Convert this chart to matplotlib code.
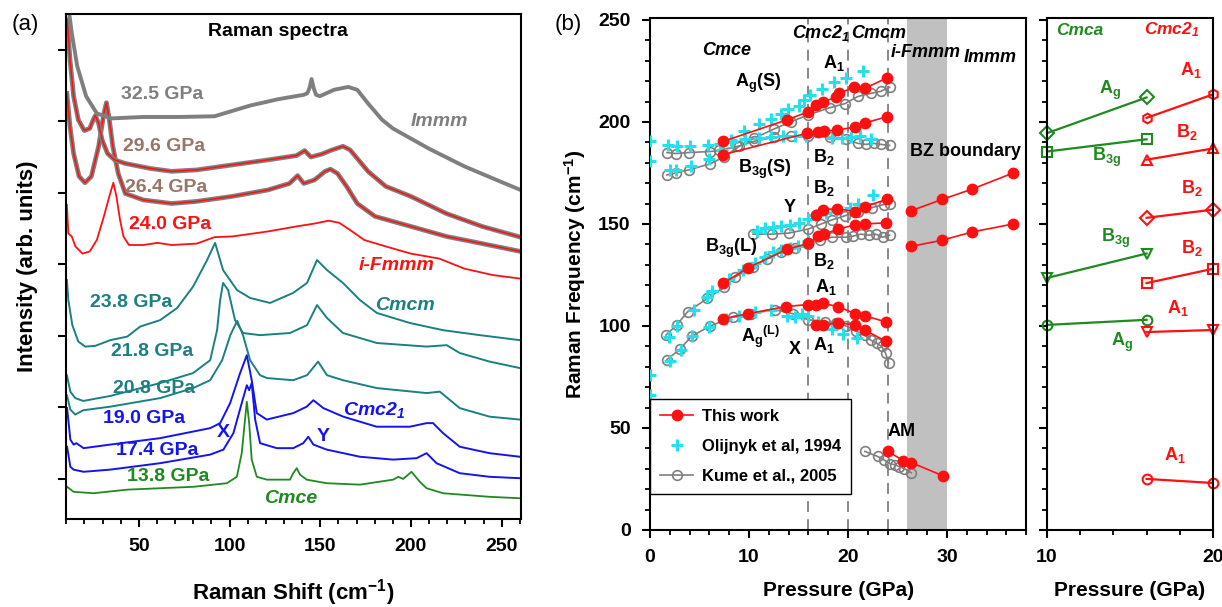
import matplotlib.pyplot as plt
from matplotlib.ticker import MultipleLocator

plt.rcParams['font.family'] = ['Liberation Sans', 'DejaVu Sans']
plt.rcParams['font.weight'] = 'bold'
plt.rcParams['axes.labelweight'] = 'bold'
plt.rcParams['mathtext.default'] = 'regular'
plt.rcParams['axes.linewidth'] = 1.5

GRAY = '#7f7f7f'
BROWN = '#9a7468'
RED = '#ff1010'
TEAL = '#1b8080'
BLUE = '#1414f0'
GREEN = '#1f8a1f'
CYAN = '#22e0ec'

# ---------- panel (a): Raman spectra (shift in cm-1, intensity in arb. units) ----------
s325_x = [11.1, 13.0, 16.0, 20.9, 26.8, 34.7, 52.4, 72.0, 91.7, 111.4, 127.1, 140.9, 142.8, 144.0, 145.2,
          146.4, 147.7, 149.7, 157.6, 165.4, 170.4, 176.3, 184.1, 190.0, 209.7, 229.4, 249.0, 260.4]
s325_y = [7.6, 7.23, 6.77, 6.35, 6.11, 6.04, 6.06, 6.06, 6.07, 6.22, 6.31, 6.37, 6.39, 6.46, 6.59,
          6.46, 6.37, 6.35, 6.44, 6.48, 6.44, 6.25, 6.02, 5.90, 5.62, 5.37, 5.16, 5.04]
s296_x = [10.5, 12.0, 14.0, 16.6, 19.9, 22.9, 24.8, 26.0, 27.8, 29.7, 32.7, 36.6, 42.5, 56.3, 68.1, 81.9,
          101.5, 121.2, 136.9, 141.4, 144.8, 150.7, 156.6, 162.5, 166.4, 170.4, 176.3, 186.1, 199.9,
          219.5, 239.2, 260.4]
s296_y = [7.42, 6.86, 6.35, 6.02, 5.87, 5.90, 6.02, 6.08, 5.97, 5.74, 5.55, 5.46, 5.41, 5.34, 5.30, 5.32,
          5.39, 5.46, 5.52, 5.59, 5.50, 5.54, 5.60, 5.65, 5.60, 5.48, 5.30, 5.09, 4.95,
          4.71, 4.53, 4.38]
s264_x = [10.3, 12.0, 14.0, 17.0, 20.3, 23.8, 27.8, 30.7, 32.1, 33.7, 35.6, 38.6, 42.5, 52.4, 68.1, 81.9,
          101.5, 121.2, 133.0, 137.5, 140.9, 146.8, 152.7, 155.6, 159.5, 164.5, 170.4, 180.2, 199.9,
          219.5, 239.2, 260.4]
s264_y = [6.39, 5.93, 5.55, 5.23, 5.14, 5.23, 5.65, 6.11, 6.26, 6.02, 5.65, 5.27, 4.99, 4.90, 4.85, 4.88,
          4.95, 5.04, 5.13, 5.24, 5.13, 5.18, 5.30, 5.33, 5.27, 5.09, 4.85, 4.67, 4.53,
          4.39, 4.29, 4.18]
s240_x = [10.3, 11.1, 13.0, 15.0, 18.9, 22.9, 26.8, 30.7, 33.7, 35.9, 37.6, 39.6, 41.5, 44.5, 52.4, 60.2,
          68.1, 81.9, 91.7, 101.5, 121.2, 136.9, 146.8, 154.6, 160.5, 166.4, 174.3, 186.1, 199.9,
          215.6, 229.4, 245.1, 260.4]
s240_y = [4.83, 4.43, 4.39, 4.25, 4.15, 4.18, 4.34, 4.67, 4.95, 5.14, 4.95, 4.62, 4.39, 4.27, 4.27, 4.30,
          4.27, 4.29, 4.38, 4.39, 4.46, 4.53, 4.57, 4.61, 4.58, 4.48, 4.34, 4.25, 4.15,
          4.08, 3.94, 3.85, 3.80]
s238_x = [10.3, 11.1, 13.3, 16.6, 20.4, 25.9, 34.2, 43.6, 50.7, 61.7, 71.1, 79.9, 87.6, 92.0, 96.4, 104.1,
          111.3, 122.3, 135.0, 142.7, 148.2, 153.7, 162.5, 171.9, 181.2, 199.4, 217.6, 238.0, 260.0]
s238_y = [3.78, 3.50, 3.15, 2.92, 2.85, 2.86, 2.94, 2.99, 3.13, 3.22, 3.39, 3.69, 4.06, 4.30, 3.92, 3.64,
          3.53, 3.46, 3.60, 3.74, 4.06, 3.92, 3.74, 3.50, 3.32, 3.18, 3.08, 3.01, 2.94]
s218_x = [10.3, 12.2, 14.9, 19.3, 34.2, 61.7, 79.9, 89.3, 93.1, 94.8, 96.4, 99.2, 103.0, 107.4, 116.8,
          133.3, 142.7, 148.2, 153.7, 162.5, 181.2, 208.7, 219.7, 226.9, 243.4, 260.0]
s218_y = [2.45, 2.22, 2.13, 2.09, 2.16, 2.34, 2.48, 2.66, 3.08, 3.50, 3.74, 3.64, 3.22, 3.04, 3.01,
          3.04, 3.15, 3.43, 3.25, 3.04, 2.90, 2.85, 2.87, 2.76, 2.64, 2.55]
s208_x = [10.3, 12.2, 14.9, 19.3, 34.2, 61.7, 79.9, 89.3, 95.9, 100.4, 104.2, 107.4, 111.3, 116.8, 120.6,
          135.0, 142.7, 148.8, 153.7, 162.5, 181.2, 208.7, 215.9, 226.9, 243.4, 260.0]
s208_y = [2.17, 1.97, 1.90, 1.96, 2.01, 2.13, 2.27, 2.38, 2.66, 3.01, 3.21, 3.01, 2.66, 2.45, 2.41,
          2.38, 2.45, 2.64, 2.45, 2.38, 2.27, 2.20, 2.22, 1.99, 1.87, 1.83]
s190_x = [10.4, 12.2, 14.0, 15.5, 19.5, 34.2, 61.7, 89.3, 94.8, 100.3, 105.8, 109.5, 112.2, 115.0, 120.5,
          135.1, 142.5, 146.2, 151.7, 162.7, 181.1, 199.4, 208.6, 212.2, 217.7, 226.9, 243.3, 260.0]
s190_y = [1.99, 1.55, 1.48, 1.50, 1.43, 1.48, 1.57, 1.71, 1.78, 2.06, 2.48, 2.73, 2.38, 1.92, 1.83,
          1.92, 2.01, 2.10, 1.99, 1.87, 1.73, 1.73, 1.78, 1.78, 1.64, 1.45, 1.36, 1.31]
s174_x = [10.4, 12.2, 14.0, 19.5, 34.2, 61.7, 89.3, 96.6, 102.1, 106.7, 109.5, 110.8, 112.2, 114.1, 116.8,
          126.0, 135.1, 140.6, 143.4, 146.2, 153.5, 171.9, 190.2, 203.1, 208.6, 214.1, 226.9, 243.3, 260.0]
s174_y = [1.45, 1.17, 1.13, 1.10, 1.13, 1.22, 1.34, 1.41, 1.64, 2.06, 2.31, 2.24, 2.34, 1.83, 1.50,
          1.43, 1.43, 1.50, 1.59, 1.48, 1.41, 1.31, 1.27, 1.29, 1.36, 1.22, 1.08, 1.03, 1.01]
s138_x = [10.4, 14.0, 25.0, 43.4, 61.7, 80.1, 98.5, 104.0, 106.7, 108.5, 109.5, 110.8, 112.2, 115.0, 120.5,
          133.3, 135.1, 137.0, 138.8, 142.5, 153.5, 171.9, 190.2, 193.0, 195.7, 200.3, 204.9, 208.6,
          217.7, 243.3, 260.0]
s138_y = [0.89, 0.82, 0.80, 0.85, 0.87, 0.89, 0.94, 1.03, 1.36, 1.83, 2.08, 1.78, 1.27, 1.03, 0.99,
          0.99, 1.08, 1.15, 1.06, 0.99, 0.94, 0.92, 0.99, 1.03, 1.00, 1.10, 0.96, 0.87,
          0.80, 0.75, 0.73]

# ---------- panel (b): frequency (cm-1) vs pressure (GPa) ----------
tw_ags_p = [7.4, 13.8, 16.0, 16.8, 17.5, 18.8, 19.1, 20.6, 21.7, 23.9]
tw_ags_f = [190.5, 201, 205, 208.5, 210, 212, 214, 217, 216.5, 221.5]
tw_b3gs_p = [7.4, 15.9, 17.0, 17.6, 18.9, 20.7, 21.7, 23.9]
tw_b3gs_f = [184, 194.5, 195, 195.5, 196, 197.5, 199.5, 202.5]
tw_y_p = [16.8, 17.5, 18.9, 20.7, 21.7, 23.9]
tw_y_f = [154.5, 157, 157.5, 156, 158.5, 162]
tw_b3gl_p = [7.4, 9.9, 13.8, 16.0, 17.0, 17.6, 19.0, 20.7, 21.7, 23.8]
tw_b3gl_f = [121, 128.5, 137.5, 140.5, 144, 145, 147.5, 149.5, 150, 150.5]
tw_agl_p = [7.4, 9.9, 13.7, 16.0, 16.8, 17.5, 19.0, 20.7, 21.7, 23.8]
tw_agl_f = [103.5, 106, 109.5, 110.5, 110.5, 111, 109.5, 106, 105, 102]
tw_x_p = [16.8, 17.5, 19.0, 20.7, 21.7, 23.8]
tw_x_f = [100.5, 100.5, 101.5, 100.5, 98, 92.5]
tw_bz_p = [26.4, 29.5, 32.5, 36.7]
tw_bz_hi = [156.5, 162, 167, 175]
tw_bz_lo = [139, 142, 146, 150]
tw_am_p = [24.0, 25.6, 26.4, 29.6]
tw_am_f = [38.5, 34, 33, 26.5]

kume_a_p = [1.7, 2.6, 3.9, 6.1, 7.5, 9.0, 10.5, 12.5, 14.2, 16.0, 18.2, 19.7, 21.0, 22.3, 23.3, 24.2]
kume_a_f = [174, 175, 176.5, 179.5, 183, 188, 192, 196.5, 200, 203.5, 207, 209, 212.5, 214, 215, 217]
kume_b_p = [1.7, 2.6, 3.9, 6.1, 7.0, 8.8, 10.5, 12.5, 14.2, 16.0, 18.2, 19.8, 21.0, 21.8, 22.6, 23.3, 24.2]
kume_b_f = [185, 184.5, 185, 185.5, 186, 188, 190.5, 192.5, 193, 193, 192.5, 191.5, 189.5, 189, 189.5, 189, 188.5]
kume_y_p = [10.4, 12.3, 14.0, 16.0, 17.3, 18.4, 19.7, 21.0, 22.4, 23.6, 24.2]
kume_y_f = [145, 145, 145.5, 147.5, 150, 152, 154, 156, 158, 159.5, 160]
kume_b3gl_p = [1.6, 2.7, 3.8, 5.8, 7.5, 8.6, 10.4, 11.8, 13.2, 14.6, 16.0, 17.2, 18.4, 19.8, 20.5, 21.3,
               22.1, 22.8, 23.5, 24.2]
kume_b3gl_f = [95.5, 100.5, 107, 113.5, 119, 124, 129, 133, 136, 138, 140, 142, 143.5, 143.5, 144, 145,
               144.5, 145, 143.5, 144.5]
kume_agl_p = [1.7, 3.0, 4.2, 6.1, 8.4, 10.2, 12.6, 14.4, 16.0, 17.7, 18.8, 19.8, 20.8, 21.7, 22.3, 22.9,
              23.4, 23.8, 24.1]
kume_agl_f = [83.5, 88.5, 95, 100, 104.5, 106, 108, 106, 103, 102, 101.5, 100, 97.5, 95.5, 93, 91.5,
              90, 86.5, 82]
kume_am_p = [21.7, 23.0, 23.6, 24.2, 24.7, 25.2, 25.7, 26.4]
kume_am_f = [38.5, 36, 34.5, 32.5, 32, 31, 30, 28]

olij_a_p = [0, 2.0, 2.6, 4.1, 6.0, 7.3, 8.2, 9.5, 11.0, 12.2, 13.2, 13.9, 15.0, 15.6, 16.2, 17.4, 18.6, 19.8, 21.5]
olij_a_f = [181, 176.5, 176.5, 178.5, 182, 186, 191, 195.5, 199, 201.5, 204, 206.5, 208, 211, 213, 216, 219.5, 221.5, 225]
olij_b_p = [0, 1.8, 2.7, 4.0, 5.9, 7.1, 8.3, 9.6, 11.0, 12.2, 13.4, 14.6, 15.8, 18.4, 19.4, 20.3, 21.2, 22.3]
olij_b_f = [190.5, 188.5, 188, 188, 188.5, 189, 190, 191.5, 192, 192.5, 193, 193, 193, 192, 192, 192.5, 193, 191.5]
olij_y_p = [10.8, 11.6, 12.4, 13.2, 14.1, 15.0, 16.0, 16.8, 17.8, 18.8, 20.2, 21.0, 22.5]
olij_y_f = [146.5, 148, 148.5, 149, 149.5, 150.5, 152.5, 154.5, 155.5, 156.5, 158, 160, 164]
olij_b3gl_p = [1.9, 2.7, 4.4, 5.8, 6.3, 8.0, 9.4, 10.6, 11.6, 12.4, 13.2, 14.1, 14.9, 16.0]
olij_b3gl_f = [94.5, 100, 108, 114, 117, 123, 127.5, 131, 134, 136, 137, 138, 139, 141.5]
olij_agl_p = [0, 0, 2.0, 3.1, 4.2, 6.0, 7.7, 9.0, 10.6, 12.2, 13.8, 14.6, 15.4, 16.0, 17.0, 18.4, 19.5, 20.9]
olij_agl_f = [76, 66, 83, 88, 95, 99.5, 103.5, 105, 107, 108, 105, 104.5, 106, 105, 102, 98.5, 96, 94]

phase_bounds = [16, 20, 24]

# ---------- panel (c): calculated modes ----------
cmca_p = [10, 16]
cmca_ag_hi = [194.5, 212]
cmca_b3g_hi = [185.5, 191.5]
cmca_b3g_lo = [123.5, 135.5]
cmca_ag_lo = [100.5, 103]
cmc21_p = [16, 20]
cmc21_a1_hi = [202, 213.5]
cmc21_b2_a = [181.5, 187]
cmc21_b2_b = [153, 157]
cmc21_b2_c = [121, 128]
cmc21_a1_mid = [97, 98]
cmc21_a1_lo = [25, 23]


def bold_ticks(ax):
    for lbl in ax.get_xticklabels() + ax.get_yticklabels():
        lbl.set_fontweight('bold')


fig = plt.figure(figsize=(12.22, 6.07), dpi=100)
axa = fig.add_axes([0.0543, 0.145, 0.3718, 0.832])
axb = fig.add_axes([0.532, 0.127, 0.3077, 0.8435])
axc = fig.add_axes([0.8568, 0.127, 0.1358, 0.8435])

# ---- (a) ----
axa.plot(s138_x, s138_y, color=GREEN, lw=1.3)
axa.plot(s174_x, s174_y, color=BLUE, lw=1.4)
axa.plot(s190_x, s190_y, color=BLUE, lw=1.4)
axa.plot(s208_x, s208_y, color=TEAL, lw=1.4)
axa.plot(s218_x, s218_y, color=TEAL, lw=1.4)
axa.plot(s238_x, s238_y, color=TEAL, lw=1.4)
axa.plot(s240_x, s240_y, color=RED, lw=1.3)
axa.plot(s264_x, s264_y, color=GRAY, lw=3.4)
axa.plot(s264_x, s264_y, color=RED, lw=1.1)
axa.plot(s296_x, s296_y, color=GRAY, lw=3.4)
axa.plot(s296_x, s296_y, color=RED, lw=1.1)
axa.plot(s325_x, s325_y, color=GRAY, lw=2.8)

axa.set_xlim(10, 260.5)
axa.set_ylim(0.44, 7.5)
axa.set_yticks(range(1, 8))
axa.xaxis.set_major_locator(MultipleLocator(50))
axa.xaxis.set_minor_locator(MultipleLocator(10))
axa.tick_params(which='major', direction='out', length=6, width=1.5, labelsize=14, pad=8,
                labelleft=False)
axa.tick_params(which='minor', direction='out', length=3.5, width=1.3)
bold_ticks(axa)
axa.set_xlabel('Raman Shift (cm$^{-1}$)', fontsize=16)
axa.set_ylabel('Intensity (arb. units)', fontsize=16)
axa.xaxis.set_label_coords(0.5, -0.115)
axa.yaxis.set_label_coords(-0.062, 0.5)

axa.text(126.7, 7.25, 'Raman spectra', fontsize=14, ha='center', va='center')
spec_labels = [
    (40.1, 6.38, '32.5 GPa', GRAY, 'normal'),
    (41.2, 5.65, '29.6 GPa', BROWN, 'normal'),
    (42.5, 5.08, '26.4 GPa', BROWN, 'normal'),
    (44.5, 4.56, '24.0 GPa', RED, 'normal'),
    (23.2, 3.46, '23.8 GPa', TEAL, 'normal'),
    (34.7, 2.78, '21.8 GPa', TEAL, 'normal'),
    (35.6, 2.27, '20.8 GPa', TEAL, 'normal'),
    (30.1, 1.84, '19.0 GPa', BLUE, 'normal'),
    (37.2, 1.40, '17.4 GPa', BLUE, 'normal'),
    (43.5, 1.04, '13.8 GPa', GREEN, 'normal'),
    (199.9, 6.00, 'Immm', GRAY, 'italic'),
    (170.9, 3.99, 'i-Fmmm', RED, 'italic'),
    (180.2, 3.42, 'Cmcm', TEAL, 'italic'),
    (162.5, 1.97, 'Cmc2$_1$', BLUE, 'italic'),
    (119.2, 0.73, 'Cmce', GREEN, 'italic'),
]
for x, y, s, c, st in spec_labels:
    axa.text(x, y, s, color=c, fontsize=14, fontstyle=st, ha='left', va='center')
axa.text(96.6, 1.65, 'X', color=BLUE, fontsize=14, ha='center', va='center')
axa.text(151.7, 1.60, 'Y', color=BLUE, fontsize=14, ha='center', va='center')

# ---- (b) ----
axb.axvspan(26, 30, color='#c0c0c0', lw=0, zorder=0)
for pb in phase_bounds:
    axb.axvline(pb, color=GRAY, lw=1.3, ls=(0, (6, 4)), zorder=1)

kume_kw = dict(color=GRAY, marker='o', mfc='none', ms=7, mew=1.2, lw=1.2, zorder=2)
red_kw = dict(color=RED, marker='o', ms=7.5, lw=1.2, zorder=4)
cyan_kw = dict(color=CYAN, marker='+', ls='none', ms=9, mew=2.2, zorder=3)

k_line, = axb.plot(kume_a_p, kume_a_f, label='Kume et al., 2005', **kume_kw)
for p, f in [(kume_b_p, kume_b_f), (kume_y_p, kume_y_f), (kume_b3gl_p, kume_b3gl_f),
             (kume_agl_p, kume_agl_f), (kume_am_p, kume_am_f)]:
    axb.plot(p, f, **kume_kw)
o_line, = axb.plot(olij_a_p, olij_a_f, label='Olijnyk et al, 1994', **cyan_kw)
for p, f in [(olij_b_p, olij_b_f), (olij_y_p, olij_y_f), (olij_b3gl_p, olij_b3gl_f),
             (olij_agl_p, olij_agl_f)]:
    axb.plot(p, f, **cyan_kw)
t_line, = axb.plot(tw_ags_p, tw_ags_f, label='This work', **red_kw)
for p, f in [(tw_b3gs_p, tw_b3gs_f), (tw_y_p, tw_y_f), (tw_b3gl_p, tw_b3gl_f),
             (tw_agl_p, tw_agl_f), (tw_x_p, tw_x_f), (tw_bz_p, tw_bz_hi),
             (tw_bz_p, tw_bz_lo), (tw_am_p, tw_am_f)]:
    axb.plot(p, f, **red_kw)

axb.set_xlim(0, 38)
axb.set_ylim(0, 251)
axb.xaxis.set_major_locator(MultipleLocator(10))
axb.xaxis.set_minor_locator(MultipleLocator(2))
axb.yaxis.set_major_locator(MultipleLocator(50))
axb.yaxis.set_minor_locator(MultipleLocator(10))
axb.tick_params(which='major', direction='out', length=6, width=1.5, labelsize=14, pad=8)
axb.tick_params(which='minor', direction='out', length=3.5, width=1.3)
bold_ticks(axb)
axb.set_xlabel('Pressure (GPa)', fontsize=15)
axb.set_ylabel('Raman Frequency (cm$^{-1}$)', fontsize=15)
axb.xaxis.set_label_coords(0.5, -0.100)
axb.yaxis.set_label_coords(-0.165, 0.5)

leg = axb.legend(handles=[t_line, o_line, k_line], loc='upper left', bbox_to_anchor=(0.0, 0.256),
                 borderaxespad=0, fontsize=12, frameon=True, fancybox=False, framealpha=1,
                 edgecolor='black', handlelength=2.0, handletextpad=0.5, labelspacing=0.9,
                 borderpad=0.6)
leg.get_frame().set_linewidth(1.0)

phase_names = [(7.7, 235, 'Cmce'), (17.2, 243.5, 'Cmc2$_1$'), (23.1, 243.5, 'Cmcm'),
               (27.9, 234, 'i-Fmmm'), (34.4, 231.5, 'Immm')]
for x, y, s in phase_names:
    axb.text(x, y, s, fontsize=13, fontstyle='italic', ha='center', va='center')
mode_labels = [(18.6, 229, 'A$_1$'), (10.9, 219, 'A$_g$(S)'), (17.6, 183, 'B$_2$'),
               (11.6, 176.5, 'B$_{3g}$(S)'), (17.6, 167.6, 'B$_2$'), (14.1, 158.3, 'Y'),
               (8.2, 138, 'B$_{3g}$(L)'), (17.6, 132, 'B$_2$'), (17.8, 119, 'A$_1$'),
               (11.2, 94.6, 'A$_g$$^{(L)}$'), (14.6, 88.2, 'X'), (17.6, 90.7, 'A$_1$'),
               (31.9, 185.3, 'BZ boundary'), (25.4, 48, 'AM')]
for x, y, s in mode_labels:
    axb.text(x, y, s, fontsize=13, ha='center', va='center')

# ---- (c) ----
c_kw = dict(mfc='none', ms=7, mew=1.5, lw=1.6)
axc.plot(cmca_p, cmca_ag_hi, color=GREEN, marker='D', **c_kw)
axc.plot(cmca_p, cmca_b3g_hi, color=GREEN, marker='s', **c_kw)
axc.plot(cmca_p, cmca_b3g_lo, color=GREEN, marker='v', **c_kw)
axc.plot(cmca_p, cmca_ag_lo, color=GREEN, marker='o', **c_kw)
axc.plot(cmc21_p, cmc21_a1_hi, color=RED, marker='h', **c_kw)
axc.plot(cmc21_p, cmc21_b2_a, color=RED, marker='^', **c_kw)
axc.plot(cmc21_p, cmc21_b2_b, color=RED, marker='D', **c_kw)
axc.plot(cmc21_p, cmc21_b2_c, color=RED, marker='s', **c_kw)
axc.plot(cmc21_p, cmc21_a1_mid, color=RED, marker='v', **c_kw)
axc.plot(cmc21_p, cmc21_a1_lo, color=RED, marker='o', **c_kw)
for line in axc.lines:
    line.set_clip_on(False)

axc.set_xlim(10, 20)
axc.set_ylim(0, 251)
axc.xaxis.set_major_locator(MultipleLocator(10))
axc.xaxis.set_minor_locator(MultipleLocator(2))
axc.yaxis.set_major_locator(MultipleLocator(50))
axc.yaxis.set_minor_locator(MultipleLocator(10))
axc.tick_params(which='major', direction='out', length=6, width=1.5, labelsize=14, pad=8,
                labelleft=False)
axc.tick_params(which='minor', direction='out', length=3.5, width=1.3)
bold_ticks(axc)
axc.set_xlabel('Pressure (GPa)', fontsize=15)
axc.xaxis.set_label_coords(0.5, -0.100)

axc.text(12.0, 245, 'Cmca', color=GREEN, fontsize=12.5, fontstyle='italic', ha='center', va='center')
axc.text(17.5, 245, 'Cmc2$_1$', color=RED, fontsize=12.5, fontstyle='italic', ha='center', va='center')
c_labels = [(13.8, 215.7, 'A$_g$', GREEN), (13.6, 182.8, 'B$_{3g}$', GREEN),
            (14.1, 143, 'B$_{3g}$', GREEN), (14.5, 92, 'A$_g$', GREEN),
            (18.7, 225.5, 'A$_1$', RED), (18.4, 195, 'B$_2$', RED), (18.7, 167.6, 'B$_2$', RED),
            (18.7, 138, 'B$_2$', RED), (17.9, 108.8, 'A$_1$', RED), (17.7, 36.8, 'A$_1$', RED)]
for x, y, s, c in c_labels:
    axc.text(x, y, s, color=c, fontsize=13, ha='center', va='center')

fig.text(0.0098, 0.959, '(a)', fontsize=16, fontweight='normal', va='center')
fig.text(0.454, 0.959, '(b)', fontsize=16, fontweight='normal', va='center')

fig.savefig('out.png', dpi=100)
